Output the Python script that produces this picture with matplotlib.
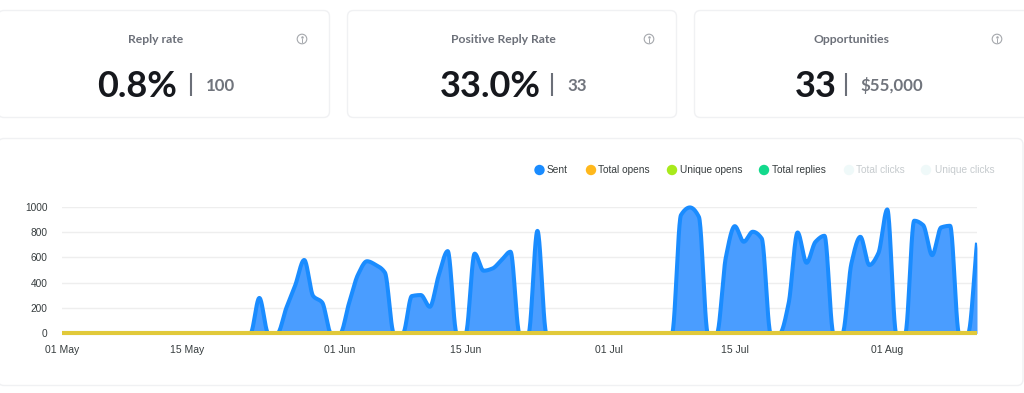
import numpy as np
import matplotlib
matplotlib.use("Agg")
import matplotlib.pyplot as plt
from matplotlib.patches import FancyBboxPatch, Circle, Rectangle

# ---- data ----
sent = [0]*22 + [280, 0, 0, 200, 380, 580, 295, 245, 0, 0, 240, 465, 570, 540, 480,
        0, 0, 295, 303, 210, 460, 650, 0, 0, 630, 495, 513, 580, 645, 0, 0, 810] + [0]*14 + \
       [0, 935, 995, 920, 0, 0, 600, 847, 724, 803, 750, 0, 0, 237, 797, 558, 724, 771,
        0, 0, 553, 763, 540, 632, 979, 0, 0, 890, 855, 618, 837, 850, 0, 0, 716]
total_opens = [0] * len(sent)
unique_opens = [0] * len(sent)
total_replies = [0] * len(sent)

y_ticks = [0, 200, 400, 600, 800, 1000]
x_tick_days = [0, 14, 31, 45, 61, 75, 92]
x_tick_labels = ["01 May", "15 May", "01 Jun", "15 Jun", "01 Jul", "15 Jul", "01 Aug"]

legend_names = ["Sent", "Total opens", "Unique opens", "Total replies", "Total clicks", "Unique clicks"]
legend_colors = ["#1a8cff", "#ffb81c", "#a8ea1c", "#12d98c", "#eff9f9", "#eff9f9"]
legend_dot_x = [539.5, 591, 672, 764, 849, 926]
legend_text_x = [547, 598.5, 680, 772, 856.5, 935]

cards = [
    dict(box=(-2, 329.5), title="Reply rate", title_x=156, big="0.8%", big_x=97, sep_x=191, small="100", small_x=206, icon_x=302),
    dict(box=(347.5, 676.5), title="Positive Reply Rate", title_x=503.5, big="33.0%", big_x=439.5, sep_x=552, small="33", small_x=567, icon_x=649),
    dict(box=(694.5, 1030), title="Opportunities", title_x=851, big="33", big_x=795, sep_x=846, small="$55,000", small_x=860, icon_x=997),
]

W, H = 1024, 393
fig = plt.figure(figsize=(W/100, H/100), dpi=100, facecolor="white")

# overlay in pixel coordinates for the UI cards
bg = fig.add_axes([0, 0, 1, 1], zorder=0)
bg.set_xlim(0, W); bg.set_ylim(H, 0); bg.axis("off")

def rbox(x0, x1, y0, y1):
    bg.add_patch(FancyBboxPatch((x0+6, y0+6), x1-x0-12, y1-y0-12,
                 boxstyle="round,pad=6,rounding_size=6", fc="white", ec="#f0f1f3", lw=1.0))

UI_FONT = "Lato"
for c in cards:
    rbox(c["box"][0], c["box"][1], 10.5, 117.5)
    bg.text(c["title_x"], 39.5, c["title"], ha="center", va="center", family=UI_FONT,
            weight="bold", fontsize=8.7, color="#6c7079")
    bg.text(c["big_x"], 86.5, c["big"], ha="left", va="center", family=UI_FONT,
            weight="bold", fontsize=26, color="#16181d")
    bg.plot([c["sep_x"]]*2, [73, 96], color="#6b6f78", lw=1.5, solid_capstyle="butt")
    bg.text(c["small_x"], 86, c["small"], ha="left", va="center", family=UI_FONT,
            weight="bold", fontsize=12.2, color="#70747c")
    bg.add_patch(Circle((c["icon_x"], 39), 4.8, fc="white", ec="#a5a8ad", lw=0.8))
    bg.plot([c["icon_x"]]*2, [38.5, 41.5], color="#a5a8ad", lw=0.7)
    bg.plot([c["icon_x"]], [36.8], marker="o", ms=0.8, color="#a5a8ad")

rbox(-2, 1023, 138.5, 385.5)

for name, col, dx, tx in zip(legend_names, legend_colors, legend_dot_x, legend_text_x):
    bg.add_patch(Circle((dx, 170), 5.2, fc=col, ec="none"))
    faded = "clicks" in name
    bg.text(tx, 170, name, ha="left", va="center", family="Liberation Sans", fontsize=7.3,
            color="#c6cbce" if faded else "#373d3f")

# ---- chart ----
def monotone(x, y, per=24):
    """Monotone cubic curve through the read values (Fritsch-Carlson)."""
    x = np.asarray(x, float); y = np.asarray(y, float)
    d = np.diff(y) / np.diff(x)
    m = np.zeros_like(y)
    nz = d[:-1]*d[1:] > 0
    m[1:-1][nz] = 2*d[:-1][nz]*d[1:][nz]/(d[:-1][nz]+d[1:][nz])
    m[0], m[-1] = d[0], d[-1]
    xs, ys = [], []
    for i in range(len(x)-1):
        t = np.linspace(0, 1, per, endpoint=False)
        h = x[i+1]-x[i]
        ys.append((2*t**3-3*t**2+1)*y[i] + (t**3-2*t**2+t)*h*m[i]
                  + (-2*t**3+3*t**2)*y[i+1] + (t**3-t**2)*h*m[i+1])
        xs.append(x[i]+t*h)
    return np.r_[np.concatenate(xs), x[-1]], np.r_[np.concatenate(ys), y[-1]]

L, R, T, B = 62, 977, 206.8, 333.4
ax = fig.add_axes([L/W, 1-B/H, (R-L)/W, (B-T)/H], zorder=1)
ax.patch.set_alpha(0)
days = np.arange(len(sent))
ax.set_xlim(0, 102)
ax.set_ylim(0, 1000)

sx, sy = monotone(days, sent)
ax.fill_between(sx, 0, sy, color="#4a9dff", lw=0, zorder=2)
sent_line, = ax.plot(sx, sy, color="#1a8cff", lw=2.9, zorder=3, solid_joinstyle="round",
                     solid_capstyle="butt")
# lets the line's rounded peaks rise above the top gridline, but not below the baseline
sent_line.set_clip_path(Rectangle((0, 0), 102, 1100, transform=ax.transData))
ax.plot(days, total_replies, color="#12d98c", lw=2.9, zorder=4, clip_on=False, solid_capstyle="butt")
ax.plot(days, total_opens, color="#f4bc24", lw=2.9, zorder=5, clip_on=False, solid_capstyle="butt")
ax.plot(days, unique_opens, color="#d0d650", lw=2.9, alpha=0.5, zorder=6, clip_on=False, solid_capstyle="butt")

ax.set_yticks(y_ticks)
ax.set_xticks(x_tick_days)
ax.set_xticklabels(x_tick_labels)
ax.grid(axis="y", color="#eeeeee", lw=1)
ax.set_axisbelow(True)
for s in ax.spines.values():
    s.set_visible(False)
ax.tick_params(axis="y", length=0, pad=10.5, labelsize=7.3, labelcolor="#373d3f")
ax.tick_params(axis="x", length=0, pad=8.5, labelsize=7.5, labelcolor="#373d3f")
for t in ax.get_xticklabels() + ax.get_yticklabels():
    t.set_family("Liberation Sans")

fig.savefig("out.png", dpi=100, facecolor="white")
